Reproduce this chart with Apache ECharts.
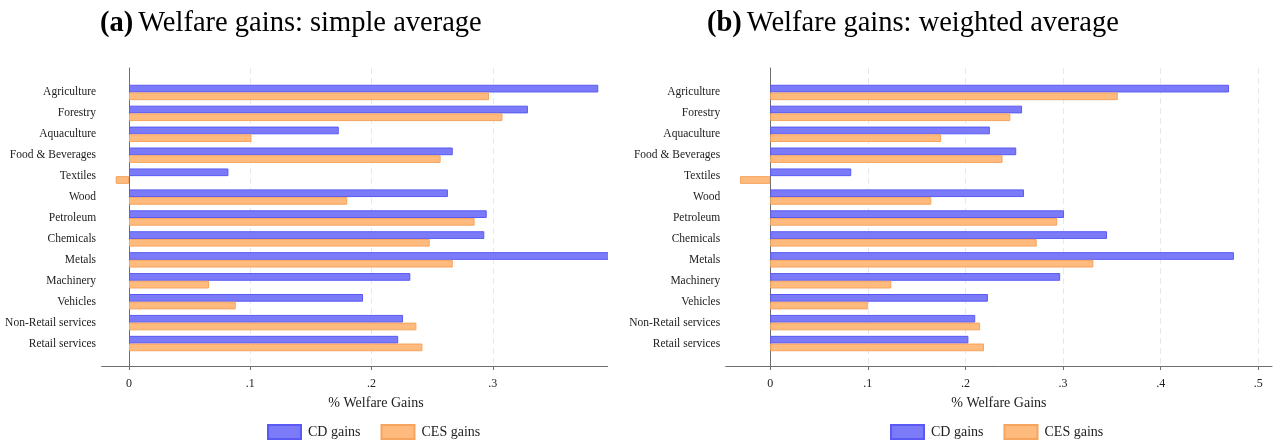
<!DOCTYPE html>
<html>
<head>
<meta charset="utf-8">
<script src="https://cdn.jsdelivr.net/npm/echarts@6/dist/echarts.min.js"></script>
<style>
  html, body { margin: 0; padding: 0; background: #fff; }
  #chart { width: 1281px; height: 444px; }
</style>
</head>
<body>
<div id="chart"></div>
<script>
// Sectors, top to bottom
const categories = ['Agriculture', 'Forestry', 'Aquaculture', 'Food & Beverages', 'Textiles', 'Wood',
  'Petroleum', 'Chemicals', 'Metals', 'Machinery', 'Vehicles', 'Non-Retail services', 'Retail services'];

// (a) simple average, % welfare gains
const cdSimple  = [0.387, 0.329, 0.173, 0.267, 0.082, 0.263, 0.295, 0.293, 0.396, 0.232, 0.193, 0.226, 0.222];
const cesSimple = [0.297, 0.308, 0.101, 0.257, -0.011, 0.180, 0.285, 0.248, 0.267, 0.066, 0.088, 0.237, 0.242];

// (b) weighted average, % welfare gains
const cdWeighted  = [0.470, 0.258, 0.225, 0.252, 0.083, 0.260, 0.301, 0.345, 0.475, 0.297, 0.223, 0.210, 0.203];
const cesWeighted = [0.356, 0.246, 0.175, 0.238, -0.031, 0.165, 0.294, 0.273, 0.331, 0.124, 0.100, 0.215, 0.219];

// Axis ticks
const ticksSimple   = [0, 0.1, 0.2, 0.3, 0.4];
const ticksWeighted = [0, 0.1, 0.2, 0.3, 0.4, 0.5];

const seriesNames = ['CD gains', 'CES gains'];
const titles = ['(a)', '(b)'];
const subtitles = ['Welfare gains: simple average', 'Welfare gains: weighted average'];
const axisTitle = '% Welfare Gains';

const SERIF = '"Liberation Serif", "Times New Roman", serif';
const CD_STYLE  = { color: '#7b7bfa', borderColor: '#5a5af2', borderWidth: 1 };
const CES_STYLE = { color: '#ffbb7e', borderColor: '#f6a45e', borderWidth: 1 };
const AXIS_COLOR = '#6e6e6e';

function tickText(v) {
  const r = Math.round(v * 10) / 10;
  return r === 0 ? '0' : String(r).replace(/^0/, '');
}

// Panel layout: frame grid (axes + gridlines) and bar grid (category bands)
const panels = [
  { left: 101.6, width: 548.8, min: -0.0226, max: 0.430, ticks: ticksSimple,
    cd: cdSimple, ces: cesSimple, titleLeft: 100, legendLeft: 267, z: 0 },
  { left: 725.7, width: 546.3, min: -0.0456, max: 0.514, ticks: ticksWeighted,
    cd: cdWeighted, ces: cesWeighted, titleLeft: 707, legendLeft: 890, z: 20 }
];

const option = {
  backgroundColor: '#fff',
  animation: false,
  title: [],
  legend: [],
  grid: [],
  xAxis: [],
  yAxis: [],
  series: [],
  graphic: [{
    // right-hand panel backdrop
    type: 'rect', left: 608, top: 0, z: 10,
    shape: { width: 673, height: 444 },
    style: { fill: '#fff' }
  }]
};

panels.forEach((p, i) => {
  const frameGrid = option.grid.length;
  option.grid.push({ left: p.left, width: p.width, top: 68, height: 298, z: p.z });
  option.grid.push({ left: p.left, width: p.width, top: 82, height: 272, z: p.z });
  const barGrid = frameGrid + 1;

  option.title.push({
    text: '{b|' + titles[i] + '} {n|' + subtitles[i] + '}',
    left: p.titleLeft, top: 9, padding: 0, z: p.z + 2,
    textStyle: {
      fontWeight: 'normal',
      rich: {
        b: { fontFamily: SERIF, fontSize: 28.5, fontWeight: 'bold', color: '#000' },
        n: { fontFamily: SERIF, fontSize: 28.5, fontWeight: 'normal', color: '#000' }
      }
    }
  });

  option.legend.push({
    data: seriesNames, left: p.legendLeft, top: 424, z: p.z + 2,
    itemWidth: 33, itemHeight: 14, itemGap: 20, padding: 0,
    icon: 'rect',
    textStyle: { fontFamily: SERIF, fontSize: 14, color: '#222', padding: [0, 0, 0, 2] }
  });

  // frame axes: bottom value axis with ticks, labels, dashed gridlines; left axis line
  option.xAxis.push({
    type: 'value', gridIndex: frameGrid, min: p.min, max: p.max, z: p.z,
    name: axisTitle, nameLocation: 'middle', nameGap: 30,
    nameTextStyle: { fontFamily: SERIF, fontSize: 14, color: '#222' },
    axisLine: { show: true, lineStyle: { color: AXIS_COLOR, width: 1 } },
    axisTick: { show: true, length: 4, customValues: p.ticks, lineStyle: { color: AXIS_COLOR } },
    axisLabel: { customValues: p.ticks, formatter: tickText, margin: 12,
      fontFamily: SERIF, fontSize: 12, color: '#222' },
    splitLine: { show: true, customValues: p.ticks,
      lineStyle: { color: '#e8e8e8', type: [6, 4], width: 1 } }
  });
  option.yAxis.push({
    type: 'value', gridIndex: frameGrid, min: 0, max: 1, z: p.z,
    axisLine: { show: true, lineStyle: { color: AXIS_COLOR, width: 1 } },
    axisTick: { show: false }, axisLabel: { show: false }, splitLine: { show: false }
  });

  // bar axes
  option.xAxis.push({
    type: 'value', gridIndex: barGrid, min: p.min, max: p.max, show: false, z: p.z,
    splitLine: { show: false }
  });
  option.yAxis.push({
    type: 'category', gridIndex: barGrid, data: categories, inverse: true, z: p.z + 1,
    axisLine: { show: false }, axisTick: { show: false },
    axisLabel: { margin: 5.5, fontFamily: SERIF, fontSize: 11.5, color: '#222' }
  });

  const xi = option.xAxis.length - 1;
  const yi = option.yAxis.length - 1;
  option.series.push({
    name: seriesNames[0], type: 'bar', xAxisIndex: xi, yAxisIndex: yi, z: p.z + 2,
    data: p.cd, barWidth: 7.7, barGap: '0%', itemStyle: CD_STYLE
  });
  option.series.push({
    name: seriesNames[1], type: 'bar', xAxisIndex: xi, yAxisIndex: yi, z: p.z + 2,
    data: p.ces, barWidth: 7.7, barGap: '0%', itemStyle: CES_STYLE
  });
});

const chart = echarts.init(document.getElementById('chart'), null, { renderer: 'canvas' });
chart.setOption(option);
</script>
</body>
</html>
